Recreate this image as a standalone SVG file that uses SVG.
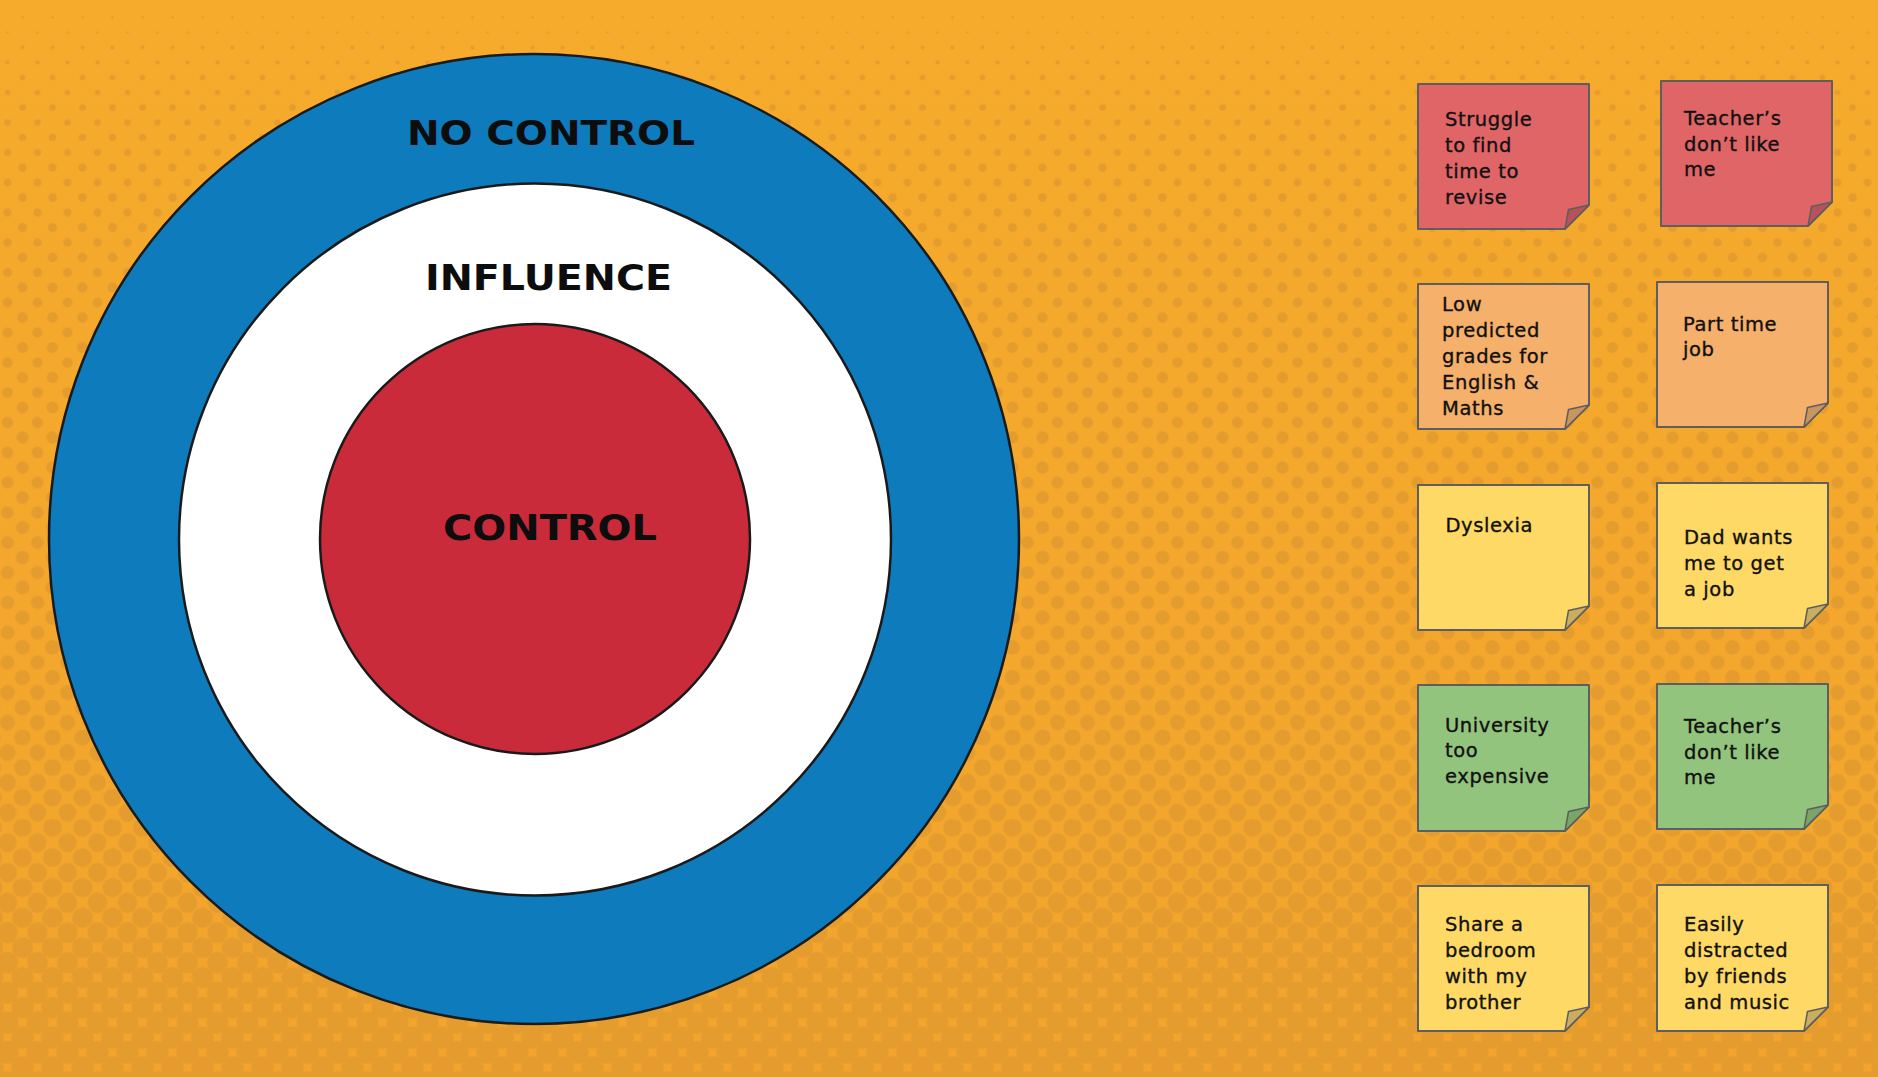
<svg xmlns="http://www.w3.org/2000/svg" width="1878" height="1077" viewBox="0 0 1878 1077">
<style>
  pattern circle { fill: #E59C2E; }
  .ring { stroke: #1a1a1a; stroke-width: 2.5; }
  .zone { font-family: "DejaVu Sans", "Liberation Sans", sans-serif; font-weight: bold; fill: #0d0d0d; }
  .note { stroke: #5e5e5e; stroke-width: 2; stroke-linejoin: round; }
  .flap { stroke: #5e5e5e; stroke-width: 1.5; stroke-linejoin: round; }
  .txt { font-family: "DejaVu Sans", "Liberation Sans", sans-serif; font-size: 19.5px; letter-spacing: 0.6px; fill: #111; stroke: #111; stroke-width: 0.35px; }
  .red .note { fill: #E06567; } .red .flap { fill: #B5525A; }
  .org .note { fill: #F5B06B; } .org .flap { fill: #C99660; }
  .yel .note { fill: #FED966; } .yel .flap { fill: #C9AE62; }
  .grn .note { fill: #93C47D; } .grn .flap { fill: #7AA468; }
</style>
<defs>
  <linearGradient id="bg" x1="0" y1="0" x2="0" y2="1">
    <stop offset="0" stop-color="#F6AB2C"/>
    <stop offset="1" stop-color="#F2A42C"/>
  </linearGradient>
  <!-- halftone dot bands: dots grow from top to bottom -->
  <pattern id="d0" x="-7.5" y="-12.5" width="30" height="30" patternUnits="userSpaceOnUse"><circle cx="15" cy="15" r="0.6"/><circle r="0.6"/><circle cx="30" r="0.6"/><circle cy="30" r="0.6"/><circle cx="30" cy="30" r="0.6"/></pattern>
  <pattern id="d1" x="-7.5" y="-12.5" width="30" height="30" patternUnits="userSpaceOnUse"><circle cx="15" cy="15" r="1.3"/><circle r="1.3"/><circle cx="30" r="1.3"/><circle cy="30" r="1.3"/><circle cx="30" cy="30" r="1.3"/></pattern>
  <pattern id="d2" x="-7.5" y="-12.5" width="30" height="30" patternUnits="userSpaceOnUse"><circle cx="15" cy="15" r="2.1"/><circle r="2.1"/><circle cx="30" r="2.1"/><circle cy="30" r="2.1"/><circle cx="30" cy="30" r="2.1"/></pattern>
  <pattern id="d3" x="-7.5" y="-12.5" width="30" height="30" patternUnits="userSpaceOnUse"><circle cx="15" cy="15" r="2.8"/><circle r="2.8"/><circle cx="30" r="2.8"/><circle cy="30" r="2.8"/><circle cx="30" cy="30" r="2.8"/></pattern>
  <pattern id="d4" x="-7.5" y="-12.5" width="30" height="30" patternUnits="userSpaceOnUse"><circle cx="15" cy="15" r="3.3"/><circle r="3.3"/><circle cx="30" r="3.3"/><circle cy="30" r="3.3"/><circle cx="30" cy="30" r="3.3"/></pattern>
  <pattern id="d5" x="-7.5" y="-12.5" width="30" height="30" patternUnits="userSpaceOnUse"><circle cx="15" cy="15" r="3.6"/><circle r="3.6"/><circle cx="30" r="3.6"/><circle cy="30" r="3.6"/><circle cx="30" cy="30" r="3.6"/></pattern>
  <pattern id="d6" x="-7.5" y="-12.5" width="30" height="30" patternUnits="userSpaceOnUse"><circle cx="15" cy="15" r="3.9"/><circle r="3.9"/><circle cx="30" r="3.9"/><circle cy="30" r="3.9"/><circle cx="30" cy="30" r="3.9"/></pattern>
  <pattern id="d7" x="-7.5" y="-12.5" width="30" height="30" patternUnits="userSpaceOnUse"><circle cx="15" cy="15" r="4.15"/><circle r="4.15"/><circle cx="30" r="4.15"/><circle cy="30" r="4.15"/><circle cx="30" cy="30" r="4.15"/></pattern>
  <pattern id="d8" x="-7.5" y="-12.5" width="30" height="30" patternUnits="userSpaceOnUse"><circle cx="15" cy="15" r="4.4"/><circle r="4.4"/><circle cx="30" r="4.4"/><circle cy="30" r="4.4"/><circle cx="30" cy="30" r="4.4"/></pattern>
  <pattern id="d9" x="-7.5" y="-12.5" width="30" height="30" patternUnits="userSpaceOnUse"><circle cx="15" cy="15" r="4.7"/><circle r="4.7"/><circle cx="30" r="4.7"/><circle cy="30" r="4.7"/><circle cx="30" cy="30" r="4.7"/></pattern>
  <pattern id="d10" x="-7.5" y="-12.5" width="30" height="30" patternUnits="userSpaceOnUse"><circle cx="15" cy="15" r="4.95"/><circle r="4.95"/><circle cx="30" r="4.95"/><circle cy="30" r="4.95"/><circle cx="30" cy="30" r="4.95"/></pattern>
  <pattern id="d11" x="-7.5" y="-12.5" width="30" height="30" patternUnits="userSpaceOnUse"><circle cx="15" cy="15" r="5.15"/><circle r="5.15"/><circle cx="30" r="5.15"/><circle cy="30" r="5.15"/><circle cx="30" cy="30" r="5.15"/></pattern>
  <pattern id="d12" x="-7.5" y="-12.5" width="30" height="30" patternUnits="userSpaceOnUse"><circle cx="15" cy="15" r="5.35"/><circle r="5.35"/><circle cx="30" r="5.35"/><circle cy="30" r="5.35"/><circle cx="30" cy="30" r="5.35"/></pattern>
  <pattern id="d13" x="-7.5" y="-12.5" width="30" height="30" patternUnits="userSpaceOnUse"><circle cx="15" cy="15" r="5.5"/><circle r="5.5"/><circle cx="30" r="5.5"/><circle cy="30" r="5.5"/><circle cx="30" cy="30" r="5.5"/></pattern>
  <pattern id="d14" x="-7.5" y="-12.5" width="30" height="30" patternUnits="userSpaceOnUse"><circle cx="15" cy="15" r="5.7"/><circle r="5.7"/><circle cx="30" r="5.7"/><circle cy="30" r="5.7"/><circle cx="30" cy="30" r="5.7"/></pattern>
  <pattern id="d15" x="-7.5" y="-12.5" width="30" height="30" patternUnits="userSpaceOnUse"><circle cx="15" cy="15" r="5.9"/><circle r="5.9"/><circle cx="30" r="5.9"/><circle cy="30" r="5.9"/><circle cx="30" cy="30" r="5.9"/></pattern>
  <pattern id="d16" x="-7.5" y="-12.5" width="30" height="30" patternUnits="userSpaceOnUse"><circle cx="15" cy="15" r="6.05"/><circle r="6.05"/><circle cx="30" r="6.05"/><circle cy="30" r="6.05"/><circle cx="30" cy="30" r="6.05"/></pattern>
  <pattern id="d17" x="-7.5" y="-12.5" width="30" height="30" patternUnits="userSpaceOnUse"><circle cx="15" cy="15" r="6.25"/><circle r="6.25"/><circle cx="30" r="6.25"/><circle cy="30" r="6.25"/><circle cx="30" cy="30" r="6.25"/></pattern>
  <pattern id="d18" x="-7.5" y="-12.5" width="30" height="30" patternUnits="userSpaceOnUse"><circle cx="15" cy="15" r="6.4"/><circle r="6.4"/><circle cx="30" r="6.4"/><circle cy="30" r="6.4"/><circle cx="30" cy="30" r="6.4"/></pattern>
  <pattern id="d19" x="-7.5" y="-12.5" width="30" height="30" patternUnits="userSpaceOnUse"><circle cx="15" cy="15" r="6.6"/><circle r="6.6"/><circle cx="30" r="6.6"/><circle cy="30" r="6.6"/><circle cx="30" cy="30" r="6.6"/></pattern>
  <pattern id="d20" x="-7.5" y="-12.5" width="30" height="30" patternUnits="userSpaceOnUse"><circle cx="15" cy="15" r="6.8"/><circle r="6.8"/><circle cx="30" r="6.8"/><circle cy="30" r="6.8"/><circle cx="30" cy="30" r="6.8"/></pattern>
  <pattern id="d21" x="-7.5" y="-12.5" width="30" height="30" patternUnits="userSpaceOnUse"><circle cx="15" cy="15" r="7"/><circle r="7"/><circle cx="30" r="7"/><circle cy="30" r="7"/><circle cx="30" cy="30" r="7"/></pattern>
  <pattern id="d22" x="-7.5" y="-12.5" width="30" height="30" patternUnits="userSpaceOnUse"><circle cx="15" cy="15" r="7.2"/><circle r="7.2"/><circle cx="30" r="7.2"/><circle cy="30" r="7.2"/><circle cx="30" cy="30" r="7.2"/></pattern>
  <pattern id="d23" x="-7.5" y="-12.5" width="30" height="30" patternUnits="userSpaceOnUse"><circle cx="15" cy="15" r="7.4"/><circle r="7.4"/><circle cx="30" r="7.4"/><circle cy="30" r="7.4"/><circle cx="30" cy="30" r="7.4"/></pattern>
  <pattern id="d24" x="-7.5" y="-12.5" width="30" height="30" patternUnits="userSpaceOnUse"><circle cx="15" cy="15" r="7.7"/><circle r="7.7"/><circle cx="30" r="7.7"/><circle cy="30" r="7.7"/><circle cx="30" cy="30" r="7.7"/></pattern>
  <pattern id="d25" x="-7.5" y="-12.5" width="30" height="30" patternUnits="userSpaceOnUse"><circle cx="15" cy="15" r="8.05"/><circle r="8.05"/><circle cx="30" r="8.05"/><circle cy="30" r="8.05"/><circle cx="30" cy="30" r="8.05"/></pattern>
  <pattern id="d26" x="-7.5" y="-12.5" width="30" height="30" patternUnits="userSpaceOnUse"><circle cx="15" cy="15" r="8.4"/><circle r="8.4"/><circle cx="30" r="8.4"/><circle cy="30" r="8.4"/><circle cx="30" cy="30" r="8.4"/></pattern>
  <pattern id="d27" x="-7.5" y="-12.5" width="30" height="30" patternUnits="userSpaceOnUse"><circle cx="15" cy="15" r="8.8"/><circle r="8.8"/><circle cx="30" r="8.8"/><circle cy="30" r="8.8"/><circle cx="30" cy="30" r="8.8"/></pattern>
  <pattern id="d28" x="-7.5" y="-12.5" width="30" height="30" patternUnits="userSpaceOnUse"><circle cx="15" cy="15" r="9.2"/><circle r="9.2"/><circle cx="30" r="9.2"/><circle cy="30" r="9.2"/><circle cx="30" cy="30" r="9.2"/></pattern>
  <pattern id="d29" x="-7.5" y="-12.5" width="30" height="30" patternUnits="userSpaceOnUse"><circle cx="15" cy="15" r="9.55"/><circle r="9.55"/><circle cx="30" r="9.55"/><circle cy="30" r="9.55"/><circle cx="30" cy="30" r="9.55"/></pattern>
  <pattern id="d30" x="-7.5" y="-12.5" width="30" height="30" patternUnits="userSpaceOnUse"><circle cx="15" cy="15" r="9.9"/><circle r="9.9"/><circle cx="30" r="9.9"/><circle cy="30" r="9.9"/><circle cx="30" cy="30" r="9.9"/></pattern>
  <pattern id="d31" x="-7.5" y="-12.5" width="30" height="30" patternUnits="userSpaceOnUse"><circle cx="15" cy="15" r="10.25"/><circle r="10.25"/><circle cx="30" r="10.25"/><circle cy="30" r="10.25"/><circle cx="30" cy="30" r="10.25"/></pattern>
  <pattern id="d32" x="-7.5" y="-12.5" width="30" height="30" patternUnits="userSpaceOnUse"><circle cx="15" cy="15" r="10.55"/><circle r="10.55"/><circle cx="30" r="10.55"/><circle cy="30" r="10.55"/><circle cx="30" cy="30" r="10.55"/></pattern>
  <pattern id="d33" x="-7.5" y="-12.5" width="30" height="30" patternUnits="userSpaceOnUse"><circle cx="15" cy="15" r="10.8"/><circle r="10.8"/><circle cx="30" r="10.8"/><circle cy="30" r="10.8"/><circle cx="30" cy="30" r="10.8"/></pattern>
  <pattern id="d34" x="-7.5" y="-12.5" width="30" height="30" patternUnits="userSpaceOnUse"><circle cx="15" cy="15" r="11.05"/><circle r="11.05"/><circle cx="30" r="11.05"/><circle cy="30" r="11.05"/><circle cx="30" cy="30" r="11.05"/></pattern>
  <pattern id="d35" x="-7.5" y="-12.5" width="30" height="30" patternUnits="userSpaceOnUse"><circle cx="15" cy="15" r="11.3"/><circle r="11.3"/><circle cx="30" r="11.3"/><circle cy="30" r="11.3"/><circle cx="30" cy="30" r="11.3"/></pattern>
</defs>

<!-- background -->
<g id="background">
  <rect width="1878" height="1077" fill="url(#bg)"/>
  <rect x="0" y="-20" width="1878" height="45" fill="url(#d0)"/>
  <rect x="0" y="10" width="1878" height="45" fill="url(#d1)"/>
  <rect x="0" y="40" width="1878" height="45" fill="url(#d2)"/>
  <rect x="0" y="70" width="1878" height="45" fill="url(#d3)"/>
  <rect x="0" y="100" width="1878" height="45" fill="url(#d4)"/>
  <rect x="0" y="130" width="1878" height="45" fill="url(#d5)"/>
  <rect x="0" y="160" width="1878" height="45" fill="url(#d6)"/>
  <rect x="0" y="190" width="1878" height="45" fill="url(#d7)"/>
  <rect x="0" y="220" width="1878" height="45" fill="url(#d8)"/>
  <rect x="0" y="250" width="1878" height="45" fill="url(#d9)"/>
  <rect x="0" y="280" width="1878" height="45" fill="url(#d10)"/>
  <rect x="0" y="310" width="1878" height="45" fill="url(#d11)"/>
  <rect x="0" y="340" width="1878" height="45" fill="url(#d12)"/>
  <rect x="0" y="370" width="1878" height="45" fill="url(#d13)"/>
  <rect x="0" y="400" width="1878" height="45" fill="url(#d14)"/>
  <rect x="0" y="430" width="1878" height="45" fill="url(#d15)"/>
  <rect x="0" y="460" width="1878" height="45" fill="url(#d16)"/>
  <rect x="0" y="490" width="1878" height="45" fill="url(#d17)"/>
  <rect x="0" y="520" width="1878" height="45" fill="url(#d18)"/>
  <rect x="0" y="550" width="1878" height="45" fill="url(#d19)"/>
  <rect x="0" y="580" width="1878" height="45" fill="url(#d20)"/>
  <rect x="0" y="610" width="1878" height="45" fill="url(#d21)"/>
  <rect x="0" y="640" width="1878" height="45" fill="url(#d22)"/>
  <rect x="0" y="670" width="1878" height="45" fill="url(#d23)"/>
  <rect x="0" y="700" width="1878" height="45" fill="url(#d24)"/>
  <rect x="0" y="730" width="1878" height="45" fill="url(#d25)"/>
  <rect x="0" y="760" width="1878" height="45" fill="url(#d26)"/>
  <rect x="0" y="790" width="1878" height="45" fill="url(#d27)"/>
  <rect x="0" y="820" width="1878" height="45" fill="url(#d28)"/>
  <rect x="0" y="850" width="1878" height="45" fill="url(#d29)"/>
  <rect x="0" y="880" width="1878" height="45" fill="url(#d30)"/>
  <rect x="0" y="910" width="1878" height="45" fill="url(#d31)"/>
  <rect x="0" y="940" width="1878" height="45" fill="url(#d32)"/>
  <rect x="0" y="970" width="1878" height="45" fill="url(#d33)"/>
  <rect x="0" y="1000" width="1878" height="45" fill="url(#d34)"/>
  <rect x="0" y="1030" width="1878" height="60" fill="url(#d35)"/>
</g>

<!-- circles of control -->
<g id="no-control">
  <circle class="ring" cx="534" cy="539" r="485" fill="#0E7BBD"/>
  <text class="zone" x="407" y="145" font-size="34" textLength="288" lengthAdjust="spacingAndGlyphs">NO CONTROL</text>
</g>
<g id="influence">
  <circle class="ring" cx="535" cy="539.5" r="356" fill="#FFFFFF"/>
  <text class="zone" x="425" y="290" font-size="36" textLength="247" lengthAdjust="spacingAndGlyphs">INFLUENCE</text>
</g>
<g id="control">
  <circle class="ring" cx="535" cy="539" r="215" fill="#C92B3A"/>
  <text class="zone" x="443" y="540" font-size="36" textLength="214" lengthAdjust="spacingAndGlyphs">CONTROL</text>
</g>

<!-- sticky notes -->
<g id="note-struggle" class="red">
  <path class="note" d="M1418,84 H1589 V205 L1565,229 H1418 Z"/>
  <path class="flap" d="M1589,205 L1568.5,209.5 L1565,229 Z"/>
  <text class="txt"><tspan x="1445" y="126">Struggle</tspan><tspan x="1445" y="152">to find</tspan><tspan x="1445" y="178">time to</tspan><tspan x="1445" y="204">revise</tspan></text>
</g>
<g id="note-teachers-1" class="red">
  <path class="note" d="M1661,81 H1832 V202 L1808,226 H1661 Z"/>
  <path class="flap" d="M1832,202 L1811.5,206.5 L1808,226 Z"/>
  <text class="txt"><tspan x="1684" y="125">Teacher’s</tspan><tspan x="1684" y="151">don’t like</tspan><tspan x="1684" y="176">me</tspan></text>
</g>
<g id="note-low-grades" class="org">
  <path class="note" d="M1418,284 H1589 V405 L1565,429 H1418 Z"/>
  <path class="flap" d="M1589,405 L1568.5,409.5 L1565,429 Z"/>
  <text class="txt"><tspan x="1442" y="310.5">Low</tspan><tspan x="1442" y="336.5">predicted</tspan><tspan x="1442" y="362.5">grades for</tspan><tspan x="1442" y="388.5">English &amp;</tspan><tspan x="1442" y="414.5">Maths</tspan></text>
</g>
<g id="note-part-time" class="org">
  <path class="note" d="M1657,282 H1828 V403 L1804,427 H1657 Z"/>
  <path class="flap" d="M1828,403 L1807.5,407.5 L1804,427 Z"/>
  <text class="txt"><tspan x="1683" y="331">Part time</tspan><tspan x="1683" y="356">job</tspan></text>
</g>
<g id="note-dyslexia" class="yel">
  <path class="note" d="M1418,485 H1589 V606 L1565,630 H1418 Z"/>
  <path class="flap" d="M1589,606 L1568.5,610.5 L1565,630 Z"/>
  <text class="txt"><tspan x="1445.5" y="532">Dyslexia</tspan></text>
</g>
<g id="note-dad" class="yel">
  <path class="note" d="M1657,483 H1828 V604 L1804,628 H1657 Z"/>
  <path class="flap" d="M1828,604 L1807.5,608.5 L1804,628 Z"/>
  <text class="txt"><tspan x="1684" y="544">Dad wants</tspan><tspan x="1684" y="570">me to get</tspan><tspan x="1684" y="596">a job</tspan></text>
</g>
<g id="note-university" class="grn">
  <path class="note" d="M1418,685 H1589 V807 L1565,831 H1418 Z"/>
  <path class="flap" d="M1589,807 L1568.5,811.5 L1565,831 Z"/>
  <text class="txt"><tspan x="1445" y="731.5">University</tspan><tspan x="1445" y="757">too</tspan><tspan x="1445" y="782.5">expensive</tspan></text>
</g>
<g id="note-teachers-2" class="grn">
  <path class="note" d="M1657,684 H1828 V805 L1804,829 H1657 Z"/>
  <path class="flap" d="M1828,805 L1807.5,809.5 L1804,829 Z"/>
  <text class="txt"><tspan x="1684" y="733">Teacher’s</tspan><tspan x="1684" y="759">don’t like</tspan><tspan x="1684" y="784">me</tspan></text>
</g>
<g id="note-bedroom" class="yel">
  <path class="note" d="M1418,886 H1589 V1007 L1565,1031 H1418 Z"/>
  <path class="flap" d="M1589,1007 L1568.5,1011.5 L1565,1031 Z"/>
  <text class="txt"><tspan x="1445" y="931">Share a</tspan><tspan x="1445" y="957">bedroom</tspan><tspan x="1445" y="983">with my</tspan><tspan x="1445" y="1008.5">brother</tspan></text>
</g>
<g id="note-distracted" class="yel">
  <path class="note" d="M1657,885 H1828 V1007 L1804,1031 H1657 Z"/>
  <path class="flap" d="M1828,1007 L1807.5,1011.5 L1804,1031 Z"/>
  <text class="txt"><tspan x="1684" y="931">Easily</tspan><tspan x="1684" y="957">distracted</tspan><tspan x="1684" y="983">by friends</tspan><tspan x="1684" y="1008.5">and music</tspan></text>
</g>

<!-- no connectors between the notes -->
<g id="connectors"/>
</svg>
